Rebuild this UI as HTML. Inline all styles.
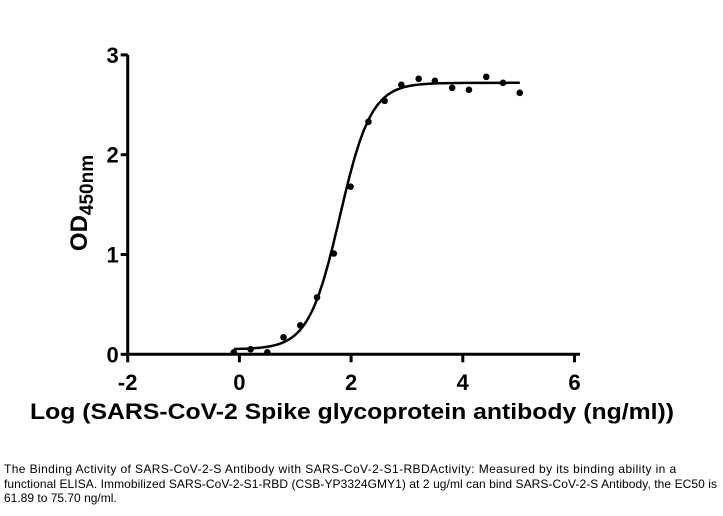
<!DOCTYPE html>
<html><head><meta charset="utf-8"><style>
body{margin:0;background:#fff;width:723px;height:516px;overflow:hidden;position:relative;font-family:"Liberation Sans",Arial,sans-serif}
#cap{position:absolute;left:4px;top:462px;width:720px;font-size:12px;line-height:14.5px;color:#000;white-space:nowrap}
</style></head><body>
<svg id="chart" width="723" height="460" style="position:absolute;left:0;top:0" font-family="Liberation Sans, Arial, sans-serif"></svg>
<div id="cap"><span style="letter-spacing:0.4px">The Binding Activity of SARS-CoV-2-S Antibody with SARS-CoV-2-S1-RBDActivity: Measured by its binding ability in a</span><br><span style="letter-spacing:0.07px">functional ELISA. Immobilized SARS-CoV-2-S1-RBD (CSB-YP3324GMY1) at 2 ug/ml can bind SARS-CoV-2-S Antibody, the EC50 is</span><br>61.89 to 75.70 ng/ml.</div>
<script>
const xVals=[-0.1,0.2,0.5,0.79,1.09,1.39,1.69,1.99,2.31,2.6,2.9,3.21,3.5,3.81,4.11,4.42,4.72,5.02];
const yVals=[0.02,0.05,0.02,0.17,0.29,0.57,1.01,1.68,2.33,2.54,2.70,2.76,2.74,2.67,2.65,2.78,2.72,2.62];
const fitParams=[0.05,2.72,1.8,1.55]; // bottom, top, logEC50, hill
const xTicks=[-2,0,2,4,6];
const yTicks=[0,1,2,3];
const NS="http://www.w3.org/2000/svg";
const svg=document.getElementById('chart');
const X=v=>127.7+(v+2)*55.85, Y=v=>354.3-v*99.8;
function mk(t,a,p){const e=document.createElementNS(NS,t);for(const k in a)e.setAttribute(k,a[k]);(p||svg).appendChild(e);return e;}
let ax=mk('line',{x1:X(-2),y1:Y(0),x2:580,y2:Y(0),stroke:'#000','stroke-width':3});


let ay=mk('line',{x1:X(-2),y1:Y(0)+1.5,x2:X(-2),y2:Y(3),stroke:'#000','stroke-width':3});


xTicks.forEach(t=>{
 let l=mk('line',{x1:X(t),y1:Y(0),x2:X(t),y2:Y(0)+8,stroke:'#000','stroke-width':3});
 
 
 let tx=mk('text',{x:X(t),y:390,'text-anchor':'middle','font-size':22,'font-weight':'bold'});
 tx.textContent=t;
 
 
});
yTicks.forEach(t=>{
 let l=mk('line',{x1:X(-2)-7,y1:Y(t),x2:X(-2),y2:Y(t),stroke:'#000','stroke-width':3});
 
 
 let tx=mk('text',{x:X(-2)-9,y:Y(t)+8,'text-anchor':'end','font-size':22,'font-weight':'bold'});
 tx.textContent=t;
 
 
});
let xt=mk('text',{x:352,y:419,'text-anchor':'middle','font-size':22,'font-weight':'bold',textLength:644,lengthAdjust:'spacingAndGlyphs'});
xt.textContent='Log (SARS-CoV-2 Spike glycoprotein antibody (ng/ml))';


let yt=mk('text',{transform:'translate(87,203) rotate(-90)','text-anchor':'middle','font-size':24,'font-weight':'bold'});
yt.innerHTML='OD<tspan font-size="19" dy="6">450nm</tspan>';


const [b,tp,ec,h]=fitParams;
let d='';for(let i=0;i<=200;i++){const x=xVals[0]+(xVals[xVals.length-1]-xVals[0])*i/200;const y=b+(tp-b)/(1+Math.pow(10,(ec-x)*h));d+=(i?'L':'M')+X(x).toFixed(1)+','+Y(y).toFixed(1);}
let c=mk('path',{d:d,fill:'none',stroke:'#000','stroke-width':2.5});


xVals.forEach((x,i)=>{
 let p=mk('circle',{cx:X(x),cy:Y(yVals[i]),r:3.3,fill:'#000'});
 
 
});
</script>
</body></html>
